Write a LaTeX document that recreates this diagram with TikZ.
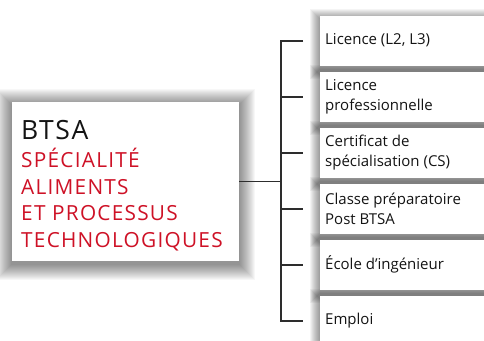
\documentclass[tikz,border=0pt]{standalone}
\usepackage{fontspec}
\newfontfamily\ff[Ligatures={NoCommon}]{Open Sans}
\newfontfamily\ffw[Ligatures={NoCommon},LetterSpace=6]{Open Sans}
\usetikzlibrary{backgrounds,calc}
\definecolor{btsared}{RGB}{206,17,38}
\definecolor{linegrey}{RGB}{45,45,45}
\definecolor{txt}{RGB}{20,20,20}
\begin{document}
\begin{tikzpicture}[x=1pt,y=-1pt,
  optbox/.style={rectangle, fill=white, minimum width=180pt, minimum height=50pt, inner sep=0pt, outer sep=0pt},
  opttext/.style={anchor=west, inner sep=0pt, align=left, font=\ff\fontsize{15}{20}\selectfont, text=txt},
  maintxt/.style={anchor=base west, inner sep=0pt, font=\ffw\fontsize{20.8}{26}\selectfont, text=btsared},
  conn/.style={draw=linegrey, line width=1.2pt}]
\useasboundingbox (0,0) rectangle (484,340);
\node[optbox, minimum width=227pt, minimum height=159pt] (main) at (125.5,181.5) {};
\node[anchor=base west, inner sep=0pt, font=\ffw\fontsize{26.5}{30}\selectfont, text=txt] (t0) at (21,139.5) {BTSA};
\node[maintxt] (t1) at (21,167.3) {SPÉCIALITÉ};
\node[maintxt] (t2) at (21,194) {ALIMENTS};
\node[maintxt] (t3) at (21,220.7) {ET PROCESSUS};
\node[maintxt] (t4) at (21,247) {TECHNOLOGIQUES};

\node[optbox] (b1) at (410,41) {};
\node[optbox] (b2) at (410,97) {};
\node[optbox] (b3) at (410,153) {};
\node[optbox] (b4) at (410,209) {};
\node[optbox] (b5) at (410,265) {};
\node[optbox] (b6) at (410,321) {};
\node[opttext] (l1) at (325,40) {Licence (L2, L3)};
\node[opttext] (l2) at (325,97) {Licence\\professionnelle};
\node[opttext] (l3) at (325,153) {Certificat de\\spécialisation (CS)};
\node[opttext] (l4) at (325,209) {Classe préparatoire\\Post BTSA};
\node[opttext] (l5) at (325,264) {École d’ingénieur};
\node[opttext] (l6) at (325,321) {Emploi};

\foreach \i in {1,...,6} \coordinate (k\i) at ([xshift=-17pt]b\i.west);
\coordinate (j) at (281,181.5);
\draw[conn] (main.east) -- (j);
\draw[conn] (k1) -- (j |- k1) -- (j |- k6) -- (k6);
\foreach \i in {2,...,5} \draw[conn] (j |- k\i) -- (k\i);

\begin{scope}[on background layer]
\fill[white] (0,0) rectangle (484,340);
\clip (0,0) rectangle (484,340);
\foreach \n/\s/\o in {main/16/0.03,b1/10/0.045,b2/10/0.045,b3/10/0.045,b4/10/0.045,b5/10/0.045,b6/10/0.045}{
  \foreach \i in {1,...,\s}{
    \fill[black,opacity=\o] ([shift={(-\i,-\i+3)}]\n.north west) rectangle ([shift={(\i,\i+3)}]\n.south east);
  }
}
\end{scope}
\end{tikzpicture}
\end{document}
